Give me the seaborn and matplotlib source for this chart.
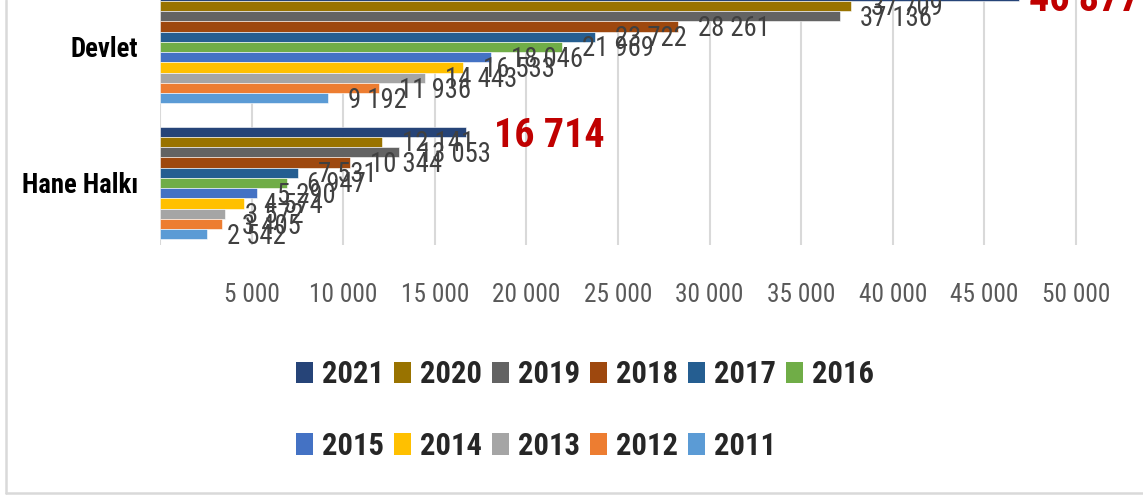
import matplotlib
matplotlib.use("Agg")
import matplotlib.pyplot as plt
import seaborn as sns
import pandas as pd
from matplotlib.patches import Patch
from matplotlib.lines import Line2D
from matplotlib import font_manager

# ---------------- data ----------------
categories = ["Devlet", "Hane Halkı"]
years = [2021, 2020, 2019, 2018, 2017, 2016, 2015, 2014, 2013, 2012, 2011]
devlet_values = [46877, 37709, 37136, 28261, 23722, 21969, 18046, 16533, 14443, 11936, 9192]
hane_values = [16714, 12141, 13053, 10344, 7531, 6947, 5290, 4574, 3572, 3405, 2542]
colors = ["#264478", "#997300", "#636363", "#9E480E", "#255E91", "#70AD47",
          "#4472C4", "#FFC000", "#A5A5A5", "#ED7D31", "#5B9BD5"]
xticks = [5000, 10000, 15000, 20000, 25000, 30000, 35000, 40000, 45000, 50000]

sns.set_theme(style="white")

# pick the narrowest available sans family
available = {f.name for f in font_manager.fontManager.ttflist}
candidates = [("Liberation Sans Narrow", 1.0, "normal"),
              ("Roboto Condensed", 0.96, "normal"),
              ("Open Sans Condensed", 0.95, "normal"),
              ("DejaVu Sans", 0.84, "condensed")]
fam, scale, stretch = "DejaVu Sans", 0.84, "condensed"
for name, sc, st in candidates:
    if name in available:
        fam, scale, stretch = name, sc, st
        break
plt.rcParams["font.family"] = [fam, "DejaVu Sans"]
plt.rcParams["font.stretch"] = stretch


def fmt(v):
    return f"{v:,}".replace(",", " ")


rows = []
for cat, vals in zip(categories, [devlet_values, hane_values]):
    for yr, v in zip(years, vals):
        rows.append({"cat": cat, "year": str(yr), "value": v})
df = pd.DataFrame(rows)

W, H = 1143, 495
fig = plt.figure(figsize=(W / 100, H / 100), dpi=100)
px_per_unit = 916 / 50000
ax_w = 930
ax = fig.add_axes([160 / W, (H - 245) / H, ax_w / W, 245 / H])

sns.barplot(data=df, x="value", y="cat", hue="year", order=categories,
            hue_order=[str(y) for y in years], palette=colors, orient="h",
            width=0.83, saturation=1, errorbar=None, legend=False,
            edgecolor="white", linewidth=0.4, ax=ax)

ax.set_xlim(0, ax_w / px_per_unit)
ax.set_ylim(1.456, -0.3456)
ax.set_axisbelow(True)
ax.xaxis.grid(True, color="#D9D9D9", lw=1.5)
ax.yaxis.grid(False)
ax.axvline(0, color="#D9D9D9", lw=1.5, zorder=0.5)
for s in ax.spines.values():
    s.set_visible(False)

ax.set_xticks(xticks)
ax.set_xticklabels([fmt(t) for t in xticks], fontsize=19 * scale, color="#595959")
ax.tick_params(axis="x", length=0, pad=27)
ax.tick_params(axis="y", length=0, pad=16)
for lab in ax.get_yticklabels():
    lab.set_fontsize(20 * scale)
    lab.set_fontweight("bold")
    lab.set_color("black")
ax.set_xlabel("")
ax.set_ylabel("")

# value labels
for container, yr in zip(ax.containers, years):
    for bar in container:
        v = bar.get_width()
        yc = bar.get_y() + bar.get_height() / 2
        cat_idx = int(round(yc))
        if yr == 2021:
            dx = (10 if cat_idx == 0 else 28) * 0.72
            ax.annotate(fmt(int(round(v))), xy=(v, yc), xytext=(dx, -4 * 0.72),
                        textcoords="offset points", ha="left", va="center",
                        fontsize=30 * scale, fontweight="bold", color="#C00000",
                        annotation_clip=False, clip_on=False)
        else:
            ax.annotate(fmt(int(round(v))), xy=(v, yc), xytext=(20 * 0.72, -2 * 0.72),
                        textcoords="offset points", ha="left", va="center",
                        fontsize=20 * scale, color="#404040",
                        annotation_clip=False, clip_on=False)

# legend (row-major ordering for 6 columns)
handles = [Patch(facecolor=c, edgecolor="none", label=str(y)) for y, c in zip(years, colors)]
order = [0, 6, 1, 7, 2, 8, 3, 9, 4, 10, 5]
hs = [handles[i] for i in order]
lfs = 23 * scale
em = lfs * 100 / 72
fig.legend(hs, [h.get_label() for h in hs], loc="upper left",
           bbox_to_anchor=(296 / W, 1 - 359 / H), ncol=6, frameon=False,
           prop={"weight": "bold", "size": lfs}, handlelength=17 / em,
           handleheight=21 / em, handletextpad=9 / em,
           columnspacing=10 / em,
           labelspacing=1.36, borderpad=0, borderaxespad=0)

# outer frame (left and bottom visible)
fig.add_artist(Line2D([5.5 / W, 5.5 / W], [(H - 493) / H, 1], color="#D9D9D9",
                      lw=1.8, transform=fig.transFigure))
fig.add_artist(Line2D([5.5 / W, 1], [(H - 493) / H, (H - 493) / H], color="#D9D9D9",
                      lw=1.8, transform=fig.transFigure))

fig.savefig("out.png", dpi=100)
